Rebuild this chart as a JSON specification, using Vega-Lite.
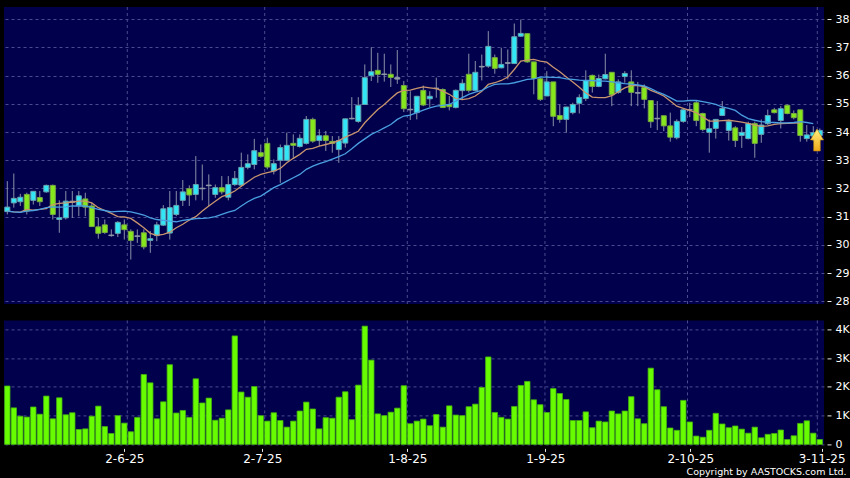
{
"$schema":"https://vega.github.io/schema/vega-lite/v6.json",
"background":"#000000",
"padding":{"left":4,"top":6,"right":0,"bottom":2},
"spacing":16.4,
"bounds":"flush",
"config":{"view":{"stroke":null,"fill":"#00004c"},"axis":{"labelFont":"DejaVu Sans","labelFontSize":11,"labelColor":"#ffffff","tickColor":"#e8e8e8","domain":false,"titleFont":"DejaVu Sans"}},
"datasets":{
"gridX":[{"g":18.46},{"g":39.6},{"g":61.54},{"g":82.72},{"g":104.65},{"g":124.62}],
"signal":[{"day":124.57,"price":33.72}],
"bars":[
{"day":0,"open":31.18,"high":32.26,"low":31.08,"close":31.34,"ma10":31.2,"ma20":31.2,"vol":2.03,"dir":"up"},
{"day":1,"open":31.49,"high":32.53,"low":31.32,"close":31.65,"ma10":31.17,"ma20":31.17,"vol":1.27,"dir":"up"},
{"day":2,"open":31.53,"high":31.81,"low":31.38,"close":31.69,"ma10":31.16,"ma20":31.15,"vol":0.98,"dir":"up"},
{"day":3,"open":31.79,"high":31.85,"low":31.08,"close":31.2,"ma10":31.26,"ma20":31.2,"vol":0.95,"dir":"down"},
{"day":4,"open":31.58,"high":31.91,"low":31.43,"close":31.9,"ma10":31.23,"ma20":31.22,"vol":1.3,"dir":"up"},
{"day":5,"open":31.68,"high":31.91,"low":31.38,"close":31.53,"ma10":31.26,"ma20":31.26,"vol":1.05,"dir":"down"},
{"day":6,"open":31.88,"high":32.14,"low":31.85,"close":32.11,"ma10":31.29,"ma20":31.32,"vol":1.68,"dir":"up"},
{"day":7,"open":32.11,"high":32.14,"low":30.9,"close":31.08,"ma10":31.43,"ma20":31.35,"vol":0.89,"dir":"down"},
{"day":8,"open":30.9,"high":31.58,"low":30.43,"close":30.96,"ma10":31.47,"ma20":31.34,"vol":1.62,"dir":"up"},
{"day":9,"open":30.96,"high":31.91,"low":30.9,"close":31.55,"ma10":31.49,"ma20":31.35,"vol":1.03,"dir":"up"},
{"day":10,"open":31.55,"high":31.91,"low":30.96,"close":31.51,"ma10":31.52,"ma20":31.38,"vol":1.1,"dir":"flat"},
{"day":11,"open":31.4,"high":31.91,"low":31.02,"close":31.74,"ma10":31.55,"ma20":31.38,"vol":0.52,"dir":"up"},
{"day":12,"open":31.63,"high":31.85,"low":31.02,"close":31.34,"ma10":31.55,"ma20":31.38,"vol":0.54,"dir":"down"},
{"day":13,"open":31.38,"high":31.49,"low":30.65,"close":30.65,"ma10":31.49,"ma20":31.32,"vol":0.98,"dir":"down"},
{"day":14,"open":30.64,"high":30.96,"low":30.22,"close":30.41,"ma10":31.32,"ma20":31.26,"vol":1.33,"dir":"down"},
{"day":15,"open":30.71,"high":30.9,"low":30.39,"close":30.44,"ma10":31.22,"ma20":31.22,"vol":0.62,"dir":"down"},
{"day":16,"open":30.35,"high":30.55,"low":30.29,"close":30.33,"ma10":31.12,"ma20":31.17,"vol":0.38,"dir":"flat"},
{"day":17,"open":30.41,"high":30.84,"low":30.28,"close":30.8,"ma10":31.0,"ma20":31.19,"vol":1.0,"dir":"up"},
{"day":18,"open":30.71,"high":30.9,"low":30.19,"close":30.54,"ma10":30.99,"ma20":31.2,"vol":0.74,"dir":"down"},
{"day":19,"open":30.48,"high":30.55,"low":29.48,"close":30.16,"ma10":30.94,"ma20":31.17,"vol":0.44,"dir":"down"},
{"day":20,"open":30.32,"high":30.55,"low":30.07,"close":30.3,"ma10":30.78,"ma20":31.12,"vol":0.94,"dir":"flat"},
{"day":21,"open":30.43,"high":30.55,"low":29.84,"close":29.93,"ma10":30.61,"ma20":31.06,"vol":2.43,"dir":"down"},
{"day":22,"open":30.16,"high":30.49,"low":29.72,"close":30.22,"ma10":30.41,"ma20":30.96,"vol":2.14,"dir":"up"},
{"day":23,"open":30.33,"high":30.82,"low":30.13,"close":30.71,"ma10":30.34,"ma20":30.9,"vol":0.89,"dir":"up"},
{"day":24,"open":30.7,"high":31.41,"low":30.67,"close":31.28,"ma10":30.37,"ma20":30.87,"vol":1.48,"dir":"up"},
{"day":25,"open":30.42,"high":31.91,"low":30.19,"close":31.32,"ma10":30.45,"ma20":30.84,"vol":2.77,"dir":"up"},
{"day":26,"open":31.08,"high":31.91,"low":31.02,"close":31.4,"ma10":30.61,"ma20":30.82,"vol":1.09,"dir":"up"},
{"day":27,"open":31.58,"high":32.3,"low":31.38,"close":31.88,"ma10":30.73,"ma20":30.87,"vol":1.18,"dir":"up"},
{"day":28,"open":31.99,"high":32.11,"low":31.38,"close":31.77,"ma10":30.88,"ma20":30.9,"vol":0.94,"dir":"down"},
{"day":29,"open":31.79,"high":33.15,"low":31.58,"close":32.14,"ma10":31.0,"ma20":30.93,"vol":2.28,"dir":"up"},
{"day":30,"open":32.01,"high":32.85,"low":31.58,"close":31.99,"ma10":31.2,"ma20":30.94,"vol":1.44,"dir":"flat"},
{"day":31,"open":32.12,"high":32.5,"low":31.38,"close":32.1,"ma10":31.38,"ma20":30.96,"vol":1.61,"dir":"flat"},
{"day":32,"open":31.79,"high":32.14,"low":31.67,"close":32.03,"ma10":31.55,"ma20":31.0,"vol":0.84,"dir":"up"},
{"day":33,"open":32.03,"high":32.44,"low":31.79,"close":31.88,"ma10":31.71,"ma20":31.08,"vol":0.91,"dir":"down"},
{"day":34,"open":31.69,"high":32.44,"low":31.58,"close":32.14,"ma10":31.79,"ma20":31.16,"vol":1.2,"dir":"up"},
{"day":35,"open":32.14,"high":32.62,"low":32.09,"close":32.36,"ma10":31.91,"ma20":31.22,"vol":3.77,"dir":"up"},
{"day":36,"open":32.12,"high":33.27,"low":32.06,"close":32.75,"ma10":32.08,"ma20":31.38,"vol":1.82,"dir":"up"},
{"day":37,"open":32.75,"high":33.21,"low":32.68,"close":32.88,"ma10":32.24,"ma20":31.53,"vol":1.64,"dir":"up"},
{"day":38,"open":32.85,"high":33.76,"low":32.68,"close":33.34,"ma10":32.4,"ma20":31.65,"vol":2.01,"dir":"up"},
{"day":39,"open":33.27,"high":33.56,"low":33.09,"close":33.14,"ma10":32.5,"ma20":31.73,"vol":1.0,"dir":"down"},
{"day":40,"open":33.6,"high":33.8,"low":32.68,"close":32.76,"ma10":32.56,"ma20":31.88,"vol":0.81,"dir":"down"},
{"day":41,"open":32.62,"high":33.03,"low":32.5,"close":32.88,"ma10":32.62,"ma20":32.03,"vol":1.1,"dir":"up"},
{"day":42,"open":33.0,"high":33.56,"low":32.2,"close":33.45,"ma10":32.71,"ma20":32.14,"vol":0.83,"dir":"up"},
{"day":43,"open":33.0,"high":33.98,"low":32.97,"close":33.53,"ma10":32.91,"ma20":32.26,"vol":0.6,"dir":"up"},
{"day":44,"open":33.6,"high":33.92,"low":33.09,"close":33.53,"ma10":33.07,"ma20":32.38,"vol":0.81,"dir":"down"},
{"day":45,"open":33.49,"high":33.92,"low":33.45,"close":33.78,"ma10":33.21,"ma20":32.5,"vol":1.16,"dir":"up"},
{"day":46,"open":33.6,"high":34.57,"low":33.56,"close":34.45,"ma10":33.39,"ma20":32.68,"vol":1.47,"dir":"up"},
{"day":47,"open":34.45,"high":34.51,"low":33.62,"close":33.68,"ma10":33.42,"ma20":32.79,"vol":1.23,"dir":"down"},
{"day":48,"open":33.7,"high":34.1,"low":33.5,"close":33.87,"ma10":33.5,"ma20":32.88,"vol":0.54,"dir":"up"},
{"day":49,"open":33.87,"high":34.04,"low":33.33,"close":33.7,"ma10":33.56,"ma20":32.95,"vol":0.93,"dir":"down"},
{"day":50,"open":33.67,"high":33.86,"low":33.27,"close":33.6,"ma10":33.62,"ma20":33.04,"vol":0.91,"dir":"down"},
{"day":51,"open":33.38,"high":33.86,"low":32.91,"close":33.7,"ma10":33.7,"ma20":33.13,"vol":1.64,"dir":"up"},
{"day":52,"open":33.61,"high":34.47,"low":33.45,"close":34.47,"ma10":33.82,"ma20":33.23,"vol":1.83,"dir":"up"},
{"day":53,"open":34.49,"high":35.24,"low":34.45,"close":34.47,"ma10":33.92,"ma20":33.41,"vol":0.86,"dir":"flat"},
{"day":54,"open":34.38,"high":35.24,"low":34.33,"close":34.95,"ma10":34.03,"ma20":33.6,"vol":2.06,"dir":"up"},
{"day":55,"open":34.98,"high":36.4,"low":34.98,"close":35.93,"ma10":34.33,"ma20":33.76,"vol":4.11,"dir":"up"},
{"day":56,"open":36.0,"high":37.01,"low":35.81,"close":36.14,"ma10":34.57,"ma20":33.92,"vol":2.93,"dir":"up"},
{"day":57,"open":36.19,"high":36.81,"low":35.75,"close":36.05,"ma10":34.8,"ma20":34.03,"vol":1.06,"dir":"down"},
{"day":58,"open":36.06,"high":36.78,"low":35.79,"close":36.04,"ma10":34.98,"ma20":34.15,"vol":1.0,"dir":"flat"},
{"day":59,"open":36.05,"high":36.4,"low":35.6,"close":35.94,"ma10":35.19,"ma20":34.27,"vol":1.12,"dir":"down"},
{"day":60,"open":35.88,"high":36.91,"low":35.71,"close":35.93,"ma10":35.39,"ma20":34.45,"vol":1.26,"dir":"flat"},
{"day":61,"open":35.65,"high":35.81,"low":34.71,"close":34.83,"ma10":35.48,"ma20":34.57,"vol":2.04,"dir":"down"},
{"day":62,"open":34.81,"high":35.45,"low":34.43,"close":34.79,"ma10":35.49,"ma20":34.6,"vol":0.72,"dir":"flat"},
{"day":63,"open":34.69,"high":35.28,"low":34.45,"close":35.27,"ma10":35.55,"ma20":34.69,"vol":0.81,"dir":"up"},
{"day":64,"open":35.48,"high":35.65,"low":34.92,"close":34.96,"ma10":35.6,"ma20":34.78,"vol":0.88,"dir":"down"},
{"day":65,"open":35.18,"high":35.45,"low":34.89,"close":35.27,"ma10":35.57,"ma20":34.86,"vol":0.65,"dir":"up"},
{"day":66,"open":35.56,"high":35.93,"low":35.22,"close":35.54,"ma10":35.54,"ma20":34.92,"vol":1.04,"dir":"flat"},
{"day":67,"open":35.51,"high":35.55,"low":34.86,"close":34.87,"ma10":35.45,"ma20":34.95,"vol":0.6,"dir":"down"},
{"day":68,"open":34.98,"high":35.28,"low":34.77,"close":34.9,"ma10":35.34,"ma20":34.98,"vol":1.34,"dir":"down"},
{"day":69,"open":34.87,"high":35.51,"low":34.84,"close":35.48,"ma10":35.19,"ma20":35.1,"vol":1.02,"dir":"up"},
{"day":70,"open":35.47,"high":35.87,"low":35.16,"close":35.73,"ma10":35.15,"ma20":35.22,"vol":1.0,"dir":"up"},
{"day":71,"open":36.05,"high":36.78,"low":35.4,"close":35.48,"ma10":35.19,"ma20":35.34,"vol":1.31,"dir":"down"},
{"day":72,"open":35.48,"high":36.52,"low":35.45,"close":36.12,"ma10":35.28,"ma20":35.42,"vol":1.4,"dir":"up"},
{"day":73,"open":36.33,"high":36.75,"low":35.83,"close":36.31,"ma10":35.45,"ma20":35.48,"vol":1.98,"dir":"flat"},
{"day":74,"open":36.34,"high":37.58,"low":36.28,"close":37.04,"ma10":35.69,"ma20":35.6,"vol":3.04,"dir":"up"},
{"day":75,"open":36.64,"high":36.75,"low":36.07,"close":36.26,"ma10":35.75,"ma20":35.69,"vol":1.11,"dir":"down"},
{"day":76,"open":36.28,"high":36.99,"low":36.26,"close":36.4,"ma10":35.83,"ma20":35.71,"vol":0.94,"dir":"up"},
{"day":77,"open":36.46,"high":36.93,"low":35.87,"close":36.44,"ma10":35.95,"ma20":35.71,"vol":0.88,"dir":"flat"},
{"day":78,"open":36.43,"high":37.85,"low":36.43,"close":37.38,"ma10":36.22,"ma20":35.75,"vol":1.32,"dir":"up"},
{"day":79,"open":37.4,"high":37.99,"low":37.38,"close":37.5,"ma10":36.52,"ma20":35.81,"vol":2.05,"dir":"up"},
{"day":80,"open":37.49,"high":37.49,"low":36.46,"close":36.49,"ma10":36.55,"ma20":35.87,"vol":2.19,"dir":"down"},
{"day":81,"open":36.49,"high":36.49,"low":35.34,"close":35.9,"ma10":36.58,"ma20":35.89,"vol":1.55,"dir":"down"},
{"day":82,"open":35.89,"high":35.93,"low":35.1,"close":35.16,"ma10":36.52,"ma20":35.95,"vol":1.38,"dir":"down"},
{"day":83,"open":35.28,"high":36.16,"low":35.28,"close":35.78,"ma10":36.48,"ma20":35.95,"vol":1.11,"dir":"up"},
{"day":84,"open":35.78,"high":35.78,"low":34.21,"close":34.56,"ma10":36.3,"ma20":35.94,"vol":1.94,"dir":"down"},
{"day":85,"open":34.59,"high":34.98,"low":34.33,"close":34.45,"ma10":36.14,"ma20":35.93,"vol":1.77,"dir":"down"},
{"day":86,"open":34.45,"high":34.89,"low":33.98,"close":34.89,"ma10":35.95,"ma20":35.89,"vol":1.56,"dir":"up"},
{"day":87,"open":34.69,"high":35.04,"low":34.63,"close":34.98,"ma10":35.78,"ma20":35.87,"vol":0.83,"dir":"up"},
{"day":88,"open":35.02,"high":35.34,"low":34.66,"close":35.23,"ma10":35.59,"ma20":35.84,"vol":0.83,"dir":"up"},
{"day":89,"open":35.19,"high":36.19,"low":35.1,"close":35.83,"ma10":35.39,"ma20":35.83,"vol":1.13,"dir":"up"},
{"day":90,"open":36.01,"high":36.04,"low":35.4,"close":35.62,"ma10":35.24,"ma20":35.83,"vol":0.58,"dir":"down"},
{"day":91,"open":35.62,"high":36.04,"low":35.59,"close":35.9,"ma10":35.22,"ma20":35.81,"vol":0.81,"dir":"up"},
{"day":92,"open":35.89,"high":36.78,"low":35.87,"close":36.04,"ma10":35.22,"ma20":35.81,"vol":0.78,"dir":"up"},
{"day":93,"open":36.12,"high":36.13,"low":34.92,"close":35.32,"ma10":35.29,"ma20":35.78,"vol":1.16,"dir":"down"},
{"day":94,"open":35.41,"high":35.87,"low":35.36,"close":35.78,"ma10":35.43,"ma20":35.75,"vol":1.06,"dir":"up"},
{"day":95,"open":35.97,"high":36.16,"low":35.75,"close":36.08,"ma10":35.57,"ma20":35.72,"vol":1.16,"dir":"up"},
{"day":96,"open":35.78,"high":36.19,"low":34.92,"close":35.41,"ma10":35.65,"ma20":35.7,"vol":1.66,"dir":"down"},
{"day":97,"open":35.4,"high":35.78,"low":34.92,"close":35.38,"ma10":35.65,"ma20":35.67,"vol":0.89,"dir":"flat"},
{"day":98,"open":35.58,"high":35.69,"low":34.84,"close":35.16,"ma10":35.61,"ma20":35.64,"vol":0.72,"dir":"down"},
{"day":99,"open":35.12,"high":35.12,"low":34.15,"close":34.37,"ma10":35.48,"ma20":35.54,"vol":2.65,"dir":"down"},
{"day":100,"open":34.49,"high":35.1,"low":34.07,"close":34.47,"ma10":35.39,"ma20":35.43,"vol":1.9,"dir":"flat"},
{"day":101,"open":34.58,"high":34.58,"low":34.03,"close":34.22,"ma10":35.28,"ma20":35.34,"vol":1.31,"dir":"down"},
{"day":102,"open":34.22,"high":34.69,"low":33.66,"close":33.82,"ma10":35.1,"ma20":35.22,"vol":0.57,"dir":"down"},
{"day":103,"open":33.8,"high":34.45,"low":33.74,"close":34.38,"ma10":34.92,"ma20":35.1,"vol":0.49,"dir":"up"},
{"day":104,"open":34.38,"high":34.86,"low":34.33,"close":34.79,"ma10":34.84,"ma20":35.1,"vol":1.53,"dir":"up"},
{"day":105,"open":34.8,"high":35.04,"low":34.53,"close":34.78,"ma10":34.77,"ma20":35.12,"vol":0.78,"dir":"flat"},
{"day":106,"open":35.04,"high":35.1,"low":34.21,"close":34.41,"ma10":34.69,"ma20":35.12,"vol":0.29,"dir":"down"},
{"day":107,"open":34.66,"high":34.69,"low":34.03,"close":34.09,"ma10":34.54,"ma20":35.08,"vol":0.25,"dir":"down"},
{"day":108,"open":33.99,"high":34.45,"low":33.27,"close":34.12,"ma10":34.39,"ma20":35.04,"vol":0.49,"dir":"up"},
{"day":109,"open":34.13,"high":34.45,"low":33.77,"close":34.45,"ma10":34.39,"ma20":34.98,"vol":1.08,"dir":"up"},
{"day":110,"open":34.59,"high":35.1,"low":34.57,"close":34.84,"ma10":34.41,"ma20":34.89,"vol":0.71,"dir":"up"},
{"day":111,"open":34.06,"high":34.45,"low":33.7,"close":34.37,"ma10":34.42,"ma20":34.84,"vol":0.58,"dir":"up"},
{"day":112,"open":34.15,"high":34.21,"low":33.47,"close":33.7,"ma10":34.39,"ma20":34.77,"vol":0.64,"dir":"down"},
{"day":113,"open":33.88,"high":34.18,"low":33.44,"close":33.99,"ma10":34.35,"ma20":34.6,"vol":0.53,"dir":"up"},
{"day":114,"open":33.77,"high":34.37,"low":33.74,"close":34.3,"ma10":34.31,"ma20":34.48,"vol":0.39,"dir":"up"},
{"day":115,"open":34.3,"high":34.37,"low":33.09,"close":33.6,"ma10":34.25,"ma20":34.42,"vol":0.6,"dir":"down"},
{"day":116,"open":33.92,"high":34.45,"low":33.62,"close":34.25,"ma10":34.2,"ma20":34.37,"vol":0.23,"dir":"up"},
{"day":117,"open":34.3,"high":34.8,"low":34.25,"close":34.59,"ma10":34.22,"ma20":34.35,"vol":0.35,"dir":"up"},
{"day":118,"open":34.79,"high":34.86,"low":34.66,"close":34.69,"ma10":34.27,"ma20":34.34,"vol":0.38,"dir":"down"},
{"day":119,"open":34.41,"high":34.92,"low":34.13,"close":34.83,"ma10":34.3,"ma20":34.33,"vol":0.5,"dir":"up"},
{"day":120,"open":34.95,"high":34.98,"low":34.63,"close":34.66,"ma10":34.31,"ma20":34.33,"vol":0.17,"dir":"down"},
{"day":121,"open":34.66,"high":34.77,"low":34.45,"close":34.51,"ma10":34.32,"ma20":34.34,"vol":0.3,"dir":"down"},
{"day":122,"open":34.79,"high":34.79,"low":33.66,"close":33.88,"ma10":34.33,"ma20":34.37,"vol":0.73,"dir":"down"},
{"day":123,"open":33.77,"high":34.25,"low":33.66,"close":33.9,"ma10":null,"ma20":34.34,"vol":0.82,"dir":"up"},
{"day":124,"open":33.86,"high":34.21,"low":33.68,"close":33.98,"ma10":null,"ma20":34.3,"vol":0.39,"dir":"up"},
{"day":125,"open":33.88,"high":34.13,"low":33.68,"close":34.06,"ma10":null,"ma20":null,"vol":0.17,"dir":"up"}
]},
"vconcat":[
{"width":820,"height":297,
"layer":[
{"data":{"name":"gridX"},"mark":{"type":"rule","color":"#4a4a8e","strokeDash":[3,3],"strokeWidth":1},
 "encoding":{"x":{"field":"g","type":"quantitative","scale":{"domain":[-0.508,125.65],"nice":false,"zero":false,"padding":0},"axis":null}}},
{"data":{"name":"bars"},"mark":{"type":"rule","color":"#8a90a8","strokeWidth":1},
 "encoding":{"x":{"field":"day","type":"quantitative","axis":null,"scale":{"domain":[-0.508,125.65],"nice":false,"zero":false,"padding":0}},
 "y":{"field":"low","type":"quantitative","scale":{"domain":[27.904,38.436],"nice":false,"zero":false,"padding":0},
  "axis":{"orient":"right","values":[28,29,30,31,32,33,34,35,36,37,38],"title":null,"grid":true,"gridColor":"#4a4a8e","gridDash":[3,3],"offset":3,"tickSize":4,"labelPadding":4}},
 "y2":{"field":"high"}}},
{"data":{"name":"bars"},"mark":{"type":"bar","orient":"vertical","width":5,"strokeWidth":1},
 "encoding":{"x":{"field":"day","type":"quantitative","axis":null},
 "y":{"field":"open","type":"quantitative","axis":{"orient":"right","values":[28,29,30,31,32,33,34,35,36,37,38],"title":null,"grid":true,"gridColor":"#4a4a8e","gridDash":[3,3],"offset":3,"tickSize":4,"labelPadding":4}},"y2":{"field":"close"},
 "fill":{"field":"dir","type":"nominal","legend":null,"scale":{"domain":["up","down","flat"],"range":["#33e6f6","#86e81c","#8f98a8"]}},
 "stroke":{"field":"dir","type":"nominal","legend":null,"scale":{"domain":["up","down","flat"],"range":["#68a4b0","#78a844","#8f98a8"]}}}},
{"data":{"name":"bars"},"mark":{"type":"line","color":"#c8946e","strokeWidth":1.3,"interpolate":"linear"},
 "encoding":{"x":{"field":"day","type":"quantitative","axis":null},"y":{"field":"ma10","type":"quantitative","axis":{"orient":"right","values":[28,29,30,31,32,33,34,35,36,37,38],"title":null,"grid":true,"gridColor":"#4a4a8e","gridDash":[3,3],"offset":3,"tickSize":4,"labelPadding":4}}}},
{"data":{"name":"bars"},"mark":{"type":"line","color":"#4a9fe0","strokeWidth":1.3,"interpolate":"linear"},
 "encoding":{"x":{"field":"day","type":"quantitative","axis":null},"y":{"field":"ma20","type":"quantitative","axis":{"orient":"right","values":[28,29,30,31,32,33,34,35,36,37,38],"title":null,"grid":true,"gridColor":"#4a4a8e","gridDash":[3,3],"offset":3,"tickSize":4,"labelPadding":4}}}},
{"data":{"name":"signal"},"mark":{"type":"point","filled":true,"opacity":1,"size":484,"shape":"M0,-1L0.6,0L0.3,0L0.3,1L-0.3,1L-0.3,0L-0.6,0Z",
  "fill":{"gradient":"linear","x1":0,"y1":0,"x2":0,"y2":1,"stops":[{"offset":0,"color":"#fff080"},{"offset":1,"color":"#f0a818"}]},"stroke":"#b8860b","strokeWidth":0.6},
 "encoding":{"x":{"field":"day","type":"quantitative","axis":null},"y":{"field":"price","type":"quantitative","axis":{"orient":"right","values":[28,29,30,31,32,33,34,35,36,37,38],"title":null,"grid":true,"gridColor":"#4a4a8e","gridDash":[3,3],"offset":3,"tickSize":4,"labelPadding":4}}}}
]},
{"width":820,"height":124,
"layer":[
{"data":{"name":"gridX"},"mark":{"type":"rule","color":"#4a4a8e","strokeDash":[3,3],"strokeWidth":1},
 "encoding":{"x":{"field":"g","type":"quantitative","scale":{"domain":[-0.508,125.65],"nice":false,"zero":false,"padding":0},
  "axis":{"values":[18,39.23,61.54,82.77,105.08,125.29],"labelExpr":"datum.value<20?'2-6-25':datum.value<50?'2-7-25':datum.value<70?'1-8-25':datum.value<90?'1-9-25':datum.value<110?'2-10-25':'3-11-25'","labelFontSize":12,"grid":false,"offset":4,"tickSize":3,"labelPadding":2,"labelOverlap":false,"labelFlush":false,"title":"Copyright by AASTOCKS.com Ltd.","titleFontSize":9.5,"titleFontWeight":"normal","titleColor":"#ffffff","titleAnchor":"end","titleBaseline":"alphabetic","titleX":842,"titleY":26}}}},
{"data":{"name":"bars"},"mark":{"type":"bar","orient":"vertical","width":5.4,"color":"#68fc00","stroke":"#44b010","strokeWidth":0.8},
 "encoding":{"x":{"field":"day","type":"quantitative","scale":{"domain":[-0.508,125.65],"nice":false,"zero":false,"padding":0},
  "axis":{"values":[18,39.23,61.54,82.77,105.08,125.29],"labelExpr":"datum.value<20?'2-6-25':datum.value<50?'2-7-25':datum.value<70?'1-8-25':datum.value<90?'1-9-25':datum.value<110?'2-10-25':'3-11-25'","labelFontSize":12,"grid":false,"offset":4,"tickSize":3,"labelPadding":2,"labelOverlap":false,"labelFlush":false,"title":"Copyright by AASTOCKS.com Ltd.","titleFontSize":9.5,"titleFontWeight":"normal","titleColor":"#ffffff","titleAnchor":"end","titleBaseline":"alphabetic","titleX":842,"titleY":26}},
 "y":{"field":"vol","type":"quantitative","scale":{"domain":[0,4.31],"nice":false,"padding":0},
  "axis":{"orient":"right","values":[0,1,2,3,4],"labelExpr":"datum.value==0?'0':datum.value+'K'","title":null,"grid":true,"gridColor":"#4a4a8e","gridDash":[3,3],"offset":3,"tickSize":4,"labelPadding":4}}}}
]}
]}
